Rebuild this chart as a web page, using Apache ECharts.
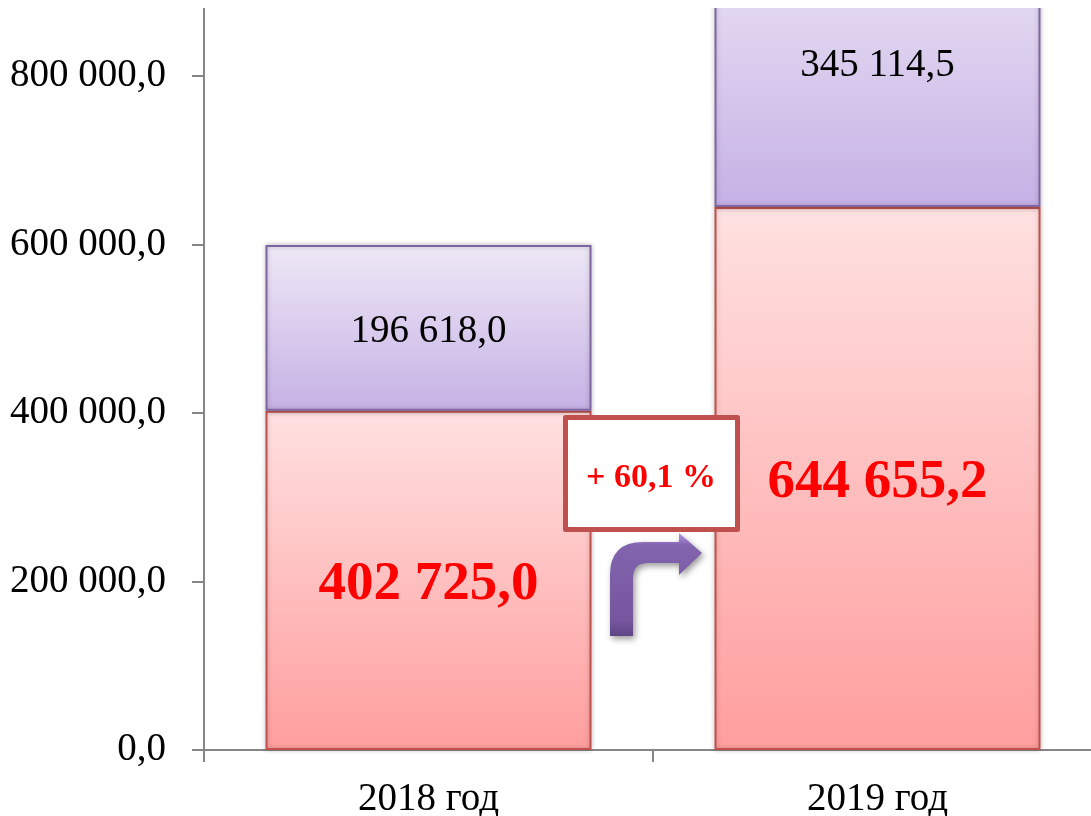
<!DOCTYPE html>
<html>
<head>
<meta charset="utf-8">
<style>
  html, body { margin: 0; padding: 0; background: #fff; }
  #chart { width: 1091px; height: 816px; }
</style>
<script src="https://cdn.jsdelivr.net/npm/echarts@6/dist/echarts.min.js"></script>
</head>
<body>
<div id="chart"></div>
<script>
const categories = ['2018 год', '2019 год'];
const redValues = [402725.0, 644655.2];
const purpleValues = [196618.0, 345114.5];
const yTicks = [0, 200000, 400000, 600000, 800000];
const changeLabel = '+ 60,1 %';

const fontName = '"Liberation Serif", serif';

// 800 000,0 style
const fmt = function (v) {
  const parts = Number(v).toFixed(1).split('.');
  return parts[0].replace(/\B(?=(\d{3})+$)/g, ' ') + ',' + parts[1];
};

const vGrad = function (stops) {
  return new echarts.graphic.LinearGradient(0, 0, 0, 1, stops.map(function (s) {
    return { offset: s[0], color: s[1] };
  }));
};

// bent arrow between the two bars
echarts.graphic.registerShape('bentArrow', echarts.graphic.extendPath(
  'M610 636 L610 575 Q610 542 643 542 L679 542 L679 533 L702 553 L679 575 L679 563 L648 563 Q633 563 633 578 L633 636 Z',
  {}
));

const chart = echarts.init(document.getElementById('chart'));
chart.setOption({
  animation: false,
  backgroundColor: '#fff',
  // the picture crops the chart at the top and right, so the grid runs off the page
  grid: { left: 204, top: -92.5, width: 898, height: 842.5, outerBoundsMode: 'none' },
  xAxis: {
    type: 'category',
    data: categories,
    axisLine: { lineStyle: { color: '#868686', width: 2 } },
    axisTick: { show: true, length: 12, lineStyle: { color: '#868686', width: 2 } },
    axisLabel: { color: '#000', fontFamily: fontName, fontSize: 39, margin: 30 }
  },
  yAxis: {
    type: 'value',
    min: 0,
    max: 1000000,
    splitLine: { show: false },
    axisLine: { show: true, lineStyle: { color: '#868686', width: 2 } },
    axisTick: { show: true, length: 12, customValues: yTicks, lineStyle: { color: '#868686', width: 2 } },
    axisLabel: {
      color: '#000',
      fontFamily: fontName,
      fontSize: 39,
      margin: 38,
      padding: [4, 0, 0, 0],
      customValues: yTicks,
      formatter: fmt
    }
  },
  series: [
    {
      type: 'bar',
      stack: 'total',
      barWidth: 326,
      data: redValues,
      itemStyle: {
        color: vGrad([[0, '#FFE1E1'], [1, '#FF9E9E']]),
        borderColor: '#C0504D',
        borderWidth: 2,
        shadowBlur: 5,
        shadowColor: 'rgba(0,0,0,0.25)'
      },
      label: {
        show: true,
        position: 'inside',
        offset: [0, 4],
        color: '#FF0000',
        fontFamily: fontName,
        fontWeight: 'bold',
        fontSize: 55,
        formatter: function (p) { return fmt(p.value); }
      }
    },
    {
      type: 'bar',
      stack: 'total',
      barWidth: 326,
      data: purpleValues,
      itemStyle: {
        color: vGrad([[0, '#EEE8F6'], [1, '#C6B1E5']]),
        borderColor: '#8064A2',
        borderWidth: 2,
        shadowBlur: 5,
        shadowColor: 'rgba(0,0,0,0.25)'
      },
      label: {
        show: true,
        position: 'inside',
        offset: [0, 4],
        color: '#000',
        fontFamily: fontName,
        fontSize: 39,
        formatter: function (p) { return fmt(p.value); }
      }
    }
  ],
  graphic: [
    {
      // blank strip where the picture is cut off
      type: 'rect',
      z: 20,
      shape: { x: 0, y: 0, width: 1091, height: 8 },
      style: { fill: '#fff' }
    },
    {
      type: 'bentArrow',
      z: 10,
      style: {
        fill: vGrad([[0, '#B795E6'], [0.12, '#8263AE'], [0.85, '#76569E'], [1, '#5E4585']]),
        shadowBlur: 6,
        shadowOffsetX: 2,
        shadowOffsetY: 3,
        shadowColor: 'rgba(0,0,0,0.4)'
      }
    },
    {
      type: 'rect',
      z: 11,
      shape: { x: 565.5, y: 417.5, width: 172, height: 112 },
      style: { fill: '#fff', stroke: '#C0504D', lineWidth: 5, lineJoin: 'round' }
    },
    {
      type: 'text',
      z: 12,
      x: 651,
      y: 478,
      style: {
        text: changeLabel,
        fill: '#FF0000',
        font: 'bold 34px ' + fontName,
        textAlign: 'center',
        textVerticalAlign: 'middle'
      }
    }
  ]
});
</script>
</body>
</html>
